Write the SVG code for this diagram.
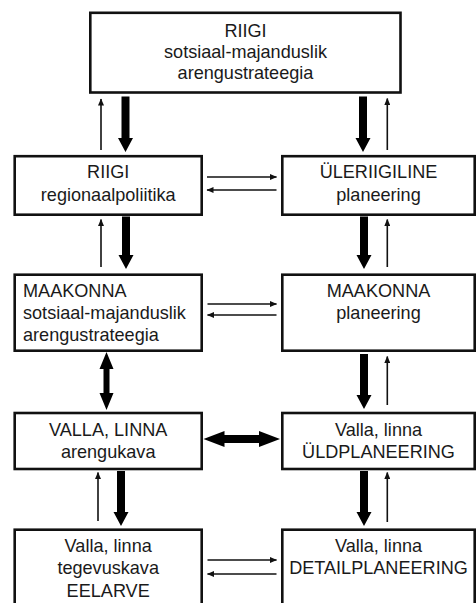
<svg xmlns="http://www.w3.org/2000/svg" width="476" height="603" viewBox="0 0 476 603">
<style>
.box{fill:#fff;stroke:#111;stroke-width:2.6}
.t{font-family:"Liberation Sans",Arial,sans-serif;font-size:18.1px;fill:#1a1a1a;text-anchor:middle}
.l{text-anchor:start}
.thin{stroke:#111;stroke-width:1.6;fill:none;marker-end:url(#ah)}
.thick{fill:#000;stroke:none}
</style>
<defs>
<marker id="ah" markerUnits="userSpaceOnUse" markerWidth="8" markerHeight="6" refX="6.5" refY="3" orient="auto">
<path d="M0,0 L7,3 L0,6 z" fill="#111"/>
</marker>
</defs>
<rect width="476" height="603" fill="#fff"/>

<g id="riigi-strateegia">
<rect class="box" x="90.3" y="12.8" width="310.2" height="79.7"/>
<text class="t" x="245.5" y="37">RIIGI</text>
<text class="t" x="245.5" y="58">sotsiaal-majanduslik</text>
<text class="t" x="245.5" y="79">arengustrateegia</text>
</g>

<g id="riigi-regionaalpoliitika">
<rect class="box" x="14.7" y="156.2" width="187" height="58.5"/>
<text class="t" x="108.2" y="178">RIIGI</text>
<text class="t" x="108.2" y="201">regionaalpoliitika</text>
</g>

<g id="uleriigiline">
<rect class="box" x="282.3" y="156.2" width="192.4" height="58.5"/>
<text class="t" x="378.5" y="178">ÜLERIIGILINE</text>
<text class="t" x="378.5" y="201">planeering</text>
</g>

<g id="maakonna-strateegia">
<rect class="box" x="14.7" y="274.7" width="187" height="76"/>
<text class="t l" x="23" y="297">MAAKONNA</text>
<text class="t l" x="23" y="319">sotsiaal-majanduslik</text>
<text class="t l" x="23" y="341">arengustrateegia</text>
</g>

<g id="maakonna-planeering">
<rect class="box" x="282.3" y="274.7" width="192.4" height="76"/>
<text class="t" x="378.5" y="297">MAAKONNA</text>
<text class="t" x="378.5" y="319">planeering</text>
</g>

<g id="valla-arengukava">
<rect class="box" x="14.7" y="413" width="187" height="56"/>
<text class="t" x="108.2" y="436">VALLA, LINNA</text>
<text class="t" x="108.2" y="458">arengukava</text>
</g>

<g id="valla-uldplaneering">
<rect class="box" x="282.3" y="413" width="192.4" height="56"/>
<text class="t" x="378.5" y="436">Valla, linna</text>
<text class="t" x="378.5" y="458">ÜLDPLANEERING</text>
</g>

<g id="valla-tegevuskava">
<rect class="box" x="14.7" y="529.7" width="187" height="90"/>
<text class="t" x="108.2" y="552">Valla, linna</text>
<text class="t" x="108.2" y="574">tegevuskava</text>
<text class="t" x="108.2" y="597">EELARVE</text>
</g>

<g id="valla-detailplaneering">
<rect class="box" x="282.3" y="529.7" width="192.4" height="90"/>
<text class="t" x="378.5" y="552">Valla, linna</text>
<text class="t" x="378.5" y="574">DETAILPLANEERING</text>
</g>

<g id="connectors">
<!-- thick down arrows -->
<polygon class="thick" points="121.5,96.5 129.5,96.5 129.5,138 133,138 125.5,152 118,138 121.5,138"/>
<polygon class="thick" points="359,96.5 367,96.5 367,138 370.5,138 363,152 355.5,138 359,138"/>
<polygon class="thick" points="122,216.5 130,216.5 130,255 133.5,255 126,269 118.5,255 122,255"/>
<polygon class="thick" points="360,216.5 368,216.5 368,255 371.5,255 364,269 356.5,255 360,255"/>
<polygon class="thick" points="360,354 368,354 368,395 371.5,395 364,409 356.5,395 360,395"/>
<polygon class="thick" points="117,471 125,471 125,512 128.5,512 121,526 113.5,512 117,512"/>
<polygon class="thick" points="360,471 368,471 368,512 371.5,512 364,526 356.5,512 360,512"/>
<!-- thin up arrows -->
<line class="thin" x1="101" y1="150" x2="101" y2="99"/>
<line class="thin" x1="387.3" y1="150" x2="387.3" y2="98.5"/>
<line class="thin" x1="101" y1="267" x2="101" y2="219.5"/>
<line class="thin" x1="387.3" y1="267" x2="387.3" y2="219.5"/>
<line class="thin" x1="387.3" y1="405" x2="387.3" y2="356.5"/>
<line class="thin" x1="98" y1="521" x2="98" y2="472.5"/>
<line class="thin" x1="387.3" y1="522" x2="387.3" y2="472.5"/>
<!-- thin horizontal pairs -->
<line class="thin" x1="207" y1="177" x2="276.5" y2="177"/>
<line class="thin" x1="276.5" y1="190" x2="207" y2="190"/>
<line class="thin" x1="207.5" y1="304" x2="276.5" y2="304"/>
<line class="thin" x1="276.5" y1="315" x2="207.5" y2="315"/>
<line class="thin" x1="207.5" y1="560" x2="276.5" y2="560"/>
<line class="thin" x1="276.5" y1="574" x2="207.5" y2="574"/>
<!-- double-headed thick arrows -->
<polygon class="thick" points="106.5,352 113.5,369 109.5,369 109.5,393 113.5,393 106.5,410 99.5,393 103.5,393 103.5,369 99.5,369"/>
<polygon class="thick" points="203.5,439 224.5,431 224.5,435 259,435 259,431 280,439 259,447 259,443 224.5,443 224.5,447"/>
</g>
</svg>
